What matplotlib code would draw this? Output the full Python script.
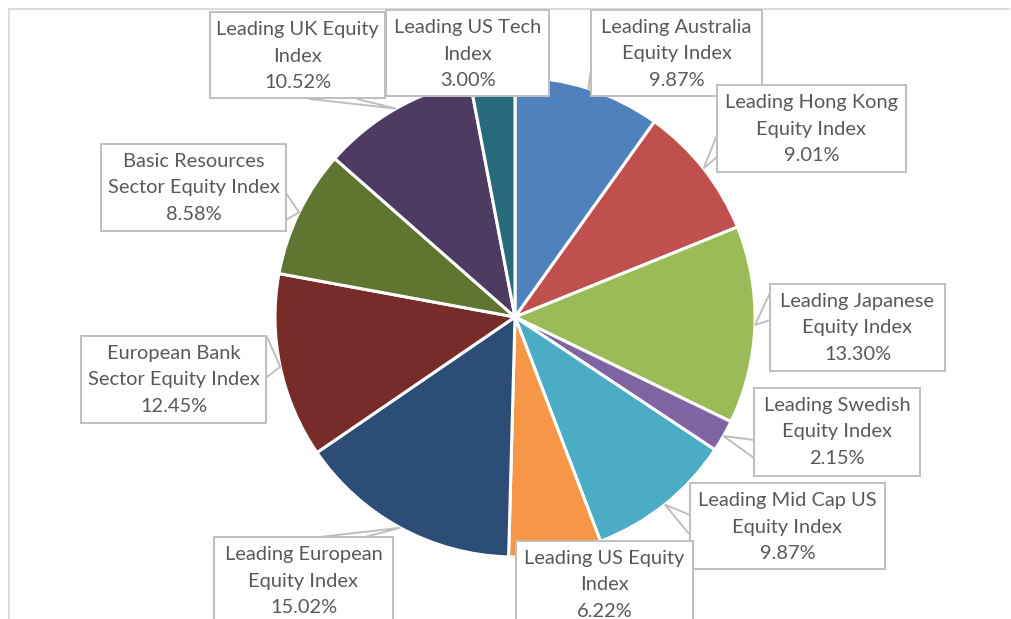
import numpy as np
import matplotlib.pyplot as plt
from matplotlib.patches import Rectangle

# data: slices clockwise from 12 o'clock
names = ['Leading Australia\nEquity Index', 'Leading Hong Kong\nEquity Index',
         'Leading Japanese\nEquity Index', 'Leading Swedish\nEquity Index',
         'Leading Mid Cap US\nEquity Index', 'Leading US Equity\nIndex',
         'Leading European\nEquity Index', 'European Bank\nSector Equity Index',
         'Basic Resources\nSector Equity Index', 'Leading UK Equity\nIndex',
         'Leading US Tech\nIndex']
shares = [9.87, 9.01, 13.30, 2.15, 9.87, 6.22, 15.02, 12.45, 8.58, 10.52, 3.00]
colors = ['#4F81BD', '#C0504D', '#9BBB59', '#8064A2', '#4BACC6', '#F79646',
          '#2C4D75', '#772C2A', '#5F7530', '#4D3B62', '#276A7C']

W, H = 1011, 619
fig = plt.figure(figsize=(W / 100, H / 100), dpi=100)
ax = fig.add_axes([0, 0, 1, 1])

cx, cy, r = 515, 317, 240
ax.pie(shares, colors=colors, startangle=90, counterclock=False,
       center=(cx, H - cy), radius=r, frame=True,
       wedgeprops=dict(edgecolor='white', linewidth=2.2))
ax.set_xlim(0, W)
ax.set_ylim(0, H)
ax.set_aspect('equal')
ax.axis('off')

# chart area border (only top/left visible)
ax.plot([8.5, W - 2], [H - 9, H - 9], color='#D9D9D9', lw=1.3, zorder=1)
ax.plot([8.5, 8.5], [H - 9, 0], color='#D9D9D9', lw=1.3, zorder=1)

# label boxes (pixel coords: x0, y0, x1, y1) and leader anchor points
boxes = [(591, 10, 762, 96), (717, 85, 906, 172), (770, 284, 945, 371),
         (754, 388, 920, 476), (690, 483, 885, 569), (516, 541, 693, 627),
         (214, 537, 393, 623), (81, 336, 266, 423), (101, 144, 286, 231),
         (210, 12, 385, 98), (386, 10, 549, 96)]
leaders = [[(591, 70), (591, 88)], [(717, 135), (717, 157)],
           [(770, 293), (770, 320)], [(754, 458), (754, 440)],
           [(690, 535), (690, 515)], None,
           [(320, 537), (365, 537)], [(267, 337), (267, 377)],
           [(286, 193), (286, 220)], [(310, 99), (357, 99)], None]

cum = np.cumsum([0] + shares[:-1])
mids = np.deg2rad((cum + np.array(shares) / 2) / sum(shares) * 360)

for i, (nm, v) in enumerate(zip(names, shares)):
    x0, y0, x1, y1 = boxes[i]
    ax.add_patch(Rectangle((x0, H - y1), x1 - x0, y1 - y0, facecolor='white',
                           edgecolor='#BFBFBF', lw=1.4, zorder=5))
    if leaders[i] is not None:
        tx = cx + r * np.sin(mids[i])
        ty = cy - r * np.cos(mids[i])
        (ax_, ay_), (bx_, by_) = leaders[i]
        ax.plot([ax_, tx, bx_], [H - ay_, H - ty, H - by_], color='#BFBFBF',
                lw=1.4, zorder=4, solid_joinstyle='miter')
    ax.text((x0 + x1) / 2, H - (y0 + 44), f'{nm}\n{v:.2f}%', ha='center',
            va='center', fontsize=14.4, color='#595959', family='Lato',
            linespacing=1.65, zorder=6)

fig.savefig('out.png', dpi=100, facecolor='white')
